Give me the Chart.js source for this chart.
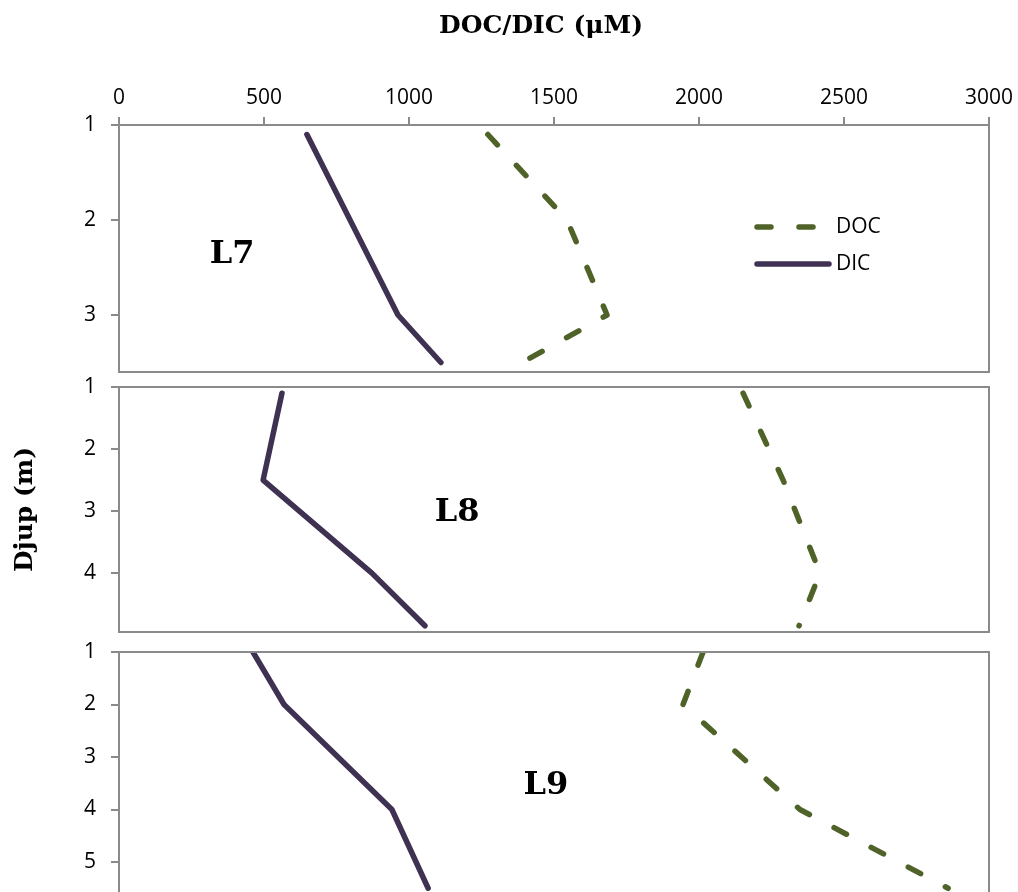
<!DOCTYPE html>
<html>
<head>
<meta charset="utf-8">
<script src="https://cdn.jsdelivr.net/npm/chart.js@4.4.1/dist/chart.umd.min.js"></script>
<style>
    html, body { margin: 0; padding: 0; background: #fff; overflow: hidden; width: 1018px; height: 892px; }
    canvas { position: absolute; left: 0; }
</style>
</head>
<body>
<canvas id="panelL7" width="1018" height="380" style="top:0px"></canvas>
<canvas id="panelL8" width="1018" height="280" style="top:360px"></canvas>
<canvas id="panelL9" width="1018" height="300" style="top:620px"></canvas>
<script>
// values: depth (m) and concentration (µM)
const xTickValues = [0, 500, 1000, 1500, 2000, 2500, 3000]

const l7DocDepth = [1.1, 2, 3, 3.5]
const l7Doc      = [1272, 1545, 1683, 1390]
const l7DicDepth = [1.1, 3, 3.5]
const l7Dic      = [648, 962, 1110]
const l7Ticks    = [1, 2, 3]

const l8DocDepth = [1.1, 2.5, 4, 4.85]
const l8Doc      = [2152, 2290, 2417, 2345]
const l8DicDepth = [1.1, 2.5, 4, 4.85]
const l8Dic      = [562, 497, 872, 1055]
const l8Ticks    = [1, 2, 3, 4]

const l9DocDepth = [1, 2, 4, 5.5]
const l9Doc      = [2014, 1945, 2348, 2859]
const l9DicDepth = [1, 2, 4, 5.5]
const l9Dic      = [462, 569, 941, 1066]
const l9Ticks    = [1, 2, 3, 4, 5]

const DOC_COLOR  = "#4f6228"
const DIC_COLOR  = "#3f3151"
const AXIS_COLOR = "#8a8a8a"
const SERIF      = "'DejaVu Serif', serif"

Chart.defaults.font.family = "'Open Sans', sans-serif"
Chart.defaults.font.size   = 21
Chart.defaults.color       = "#000"

const toPoints = function (xs, ys) {
    return xs.map((v, i) => ({ x: v, y: ys[i] }))
}

// box around each panel
const framePlugin = {
    id: "frame",
    afterDatasetsDraw(chart) {
        const { ctx, chartArea: a } = chart
        ctx.save()
        ctx.strokeStyle = AXIS_COLOR
        ctx.lineWidth = 2
        ctx.strokeRect(a.left, a.top, a.right - a.left, a.bottom - a.top)
        ctx.restore()
    }
}

// L7 / L8 / L9 text inside the panel
const panelLabelPlugin = {
    id: "panelLabel",
    afterDatasetsDraw(chart, args, opts) {
        if (!opts.text) return
        const ctx = chart.ctx
        ctx.save()
        ctx.font = "bold 32px " + SERIF
        ctx.fillStyle = "#000"
        ctx.textAlign = "center"
        ctx.textBaseline = "middle"
        ctx.fillText(opts.text, chart.scales.x.getPixelForValue(opts.x), chart.scales.y.getPixelForValue(opts.y))
        ctx.restore()
    }
}

// main title above the top axis
const topTitlePlugin = {
    id: "topTitle",
    afterDraw(chart, args, opts) {
        if (!opts.text) return
        const ctx = chart.ctx
        ctx.save()
        ctx.font = "bold 25px " + SERIF
        ctx.fillStyle = "#000"
        ctx.textAlign = "center"
        ctx.textBaseline = "middle"
        ctx.fillText(opts.text, opts.x, opts.y)
        ctx.restore()
    }
}

// legend drawn inside the top panel
const legendPlugin = {
    id: "insideLegend",
    afterDatasetsDraw(chart, args, opts) {
        if (!opts.display) return
        const ctx = chart.ctx
        chart.data.datasets.forEach((ds, i) => {
            const y = opts.top + i * opts.rowGap
            ctx.save()
            ctx.strokeStyle = ds.borderColor
            ctx.lineWidth = ds.borderWidth
            ctx.lineCap = "round"
            ctx.setLineDash(ds.borderDash || [])
            ctx.beginPath()
            ctx.moveTo(opts.left, y)
            ctx.lineTo(opts.left + opts.lineLength, y)
            ctx.stroke()
            ctx.setLineDash([])
            ctx.fillStyle = "#000"
            ctx.font = "21px 'Open Sans', sans-serif"
            ctx.textBaseline = "middle"
            ctx.fillText(ds.label, opts.textLeft, y)
            ctx.restore()
        })
    }
}

const makePanel = function (id, cfg) {
    const datasets = [
        { label: "DOC", data: toPoints(cfg.doc, cfg.docDepth), borderColor: DOC_COLOR, borderWidth: 5.5, borderDash: [14, 28],
          borderCapStyle: "round", borderJoinStyle: "round", pointRadius: 0, tension: 0, fill: false },
        { label: "DIC", data: toPoints(cfg.dic, cfg.dicDepth), borderColor: DIC_COLOR, borderWidth: 5.5,
          borderCapStyle: "round", borderJoinStyle: "round", pointRadius: 0, tension: 0, fill: false }
    ]
    return new Chart(document.getElementById(id), {
        type: "line",
        data: { datasets: datasets },
        plugins: [framePlugin, panelLabelPlugin, legendPlugin, topTitlePlugin],
        options: {
            responsive: false,
            animation: false,
            devicePixelRatio: 1,
            layout: { padding: cfg.padding },
            plugins: {
                legend: { display: false },
                tooltip: { enabled: false },
                panelLabel: cfg.label,
                insideLegend: cfg.legend || { display: false },
                topTitle: cfg.title || {}
            },
            scales: {
                x: {
                    type: "linear",
                    position: "top",
                    display: cfg.showX,
                    min: 0,
                    max: 3000,
                    afterBuildTicks: (s) => { s.ticks = xTickValues.map((v) => ({ value: v })) },
                    afterFit: (s) => {
                        if (!cfg.showX) return
                        s.height = 125; s.paddingLeft = 0; s.paddingRight = 0
                    },
                    grid: { drawOnChartArea: false, tickLength: 8, color: AXIS_COLOR, lineWidth: 2 },
                    border: { color: AXIS_COLOR, width: 2 },
                    ticks: { padding: 6, maxRotation: 0, callback: (v) => String(v) }
                },
                y: {
                    type: "linear",
                    reverse: true,
                    min: 1,
                    max: cfg.maxDepth,
                    afterBuildTicks: (s) => { s.ticks = cfg.ticks.map((v) => ({ value: v })) },
                    afterFit: (s) => { s.width = 119; s.paddingTop = 0; s.paddingBottom = 0 },
                    grid: { drawOnChartArea: false, tickLength: 8, color: AXIS_COLOR, lineWidth: 2 },
                    border: { color: AXIS_COLOR, width: 2 },
                    ticks: { padding: 15, callback: (v) => String(v) },
                    title: { display: !!cfg.yTitle, text: cfg.yTitle || "", font: { family: SERIF, size: 25, weight: "bold" }, padding: { top: 10, bottom: 0 } }
                }
            }
        }
    })
}

makePanel("panelL7", {
    doc: l7Doc, docDepth: l7DocDepth, dic: l7Dic, dicDepth: l7DicDepth, ticks: l7Ticks, maxDepth: 3.6,
    showX: true, padding: { left: 0, right: 29, top: 0, bottom: 8 },
    title: { text: "DOC/DIC (μM)", x: 541, y: 26 },
    label: { text: "L7", x: 390, y: 2.36 },
    legend: { display: true, left: 757, lineLength: 72, textLeft: 836, top: 227, rowGap: 37 }
})

makePanel("panelL8", {
    doc: l8Doc, docDepth: l8DocDepth, dic: l8Dic, dicDepth: l8DicDepth, ticks: l8Ticks, maxDepth: 4.95,
    showX: false, padding: { left: 0, right: 29, top: 27, bottom: 8 }, yTitle: "Djup (m)",
    label: { text: "L8", x: 1166, y: 3.02 }
})

makePanel("panelL9", {
    doc: l9Doc, docDepth: l9DocDepth, dic: l9Dic, dicDepth: l9DicDepth, ticks: l9Ticks, maxDepth: 6,
    showX: false, padding: { left: 0, right: 29, top: 32, bottom: 5.5 },
    label: { text: "L9", x: 1472, y: 3.55 }
})
</script>
</body>
</html>
